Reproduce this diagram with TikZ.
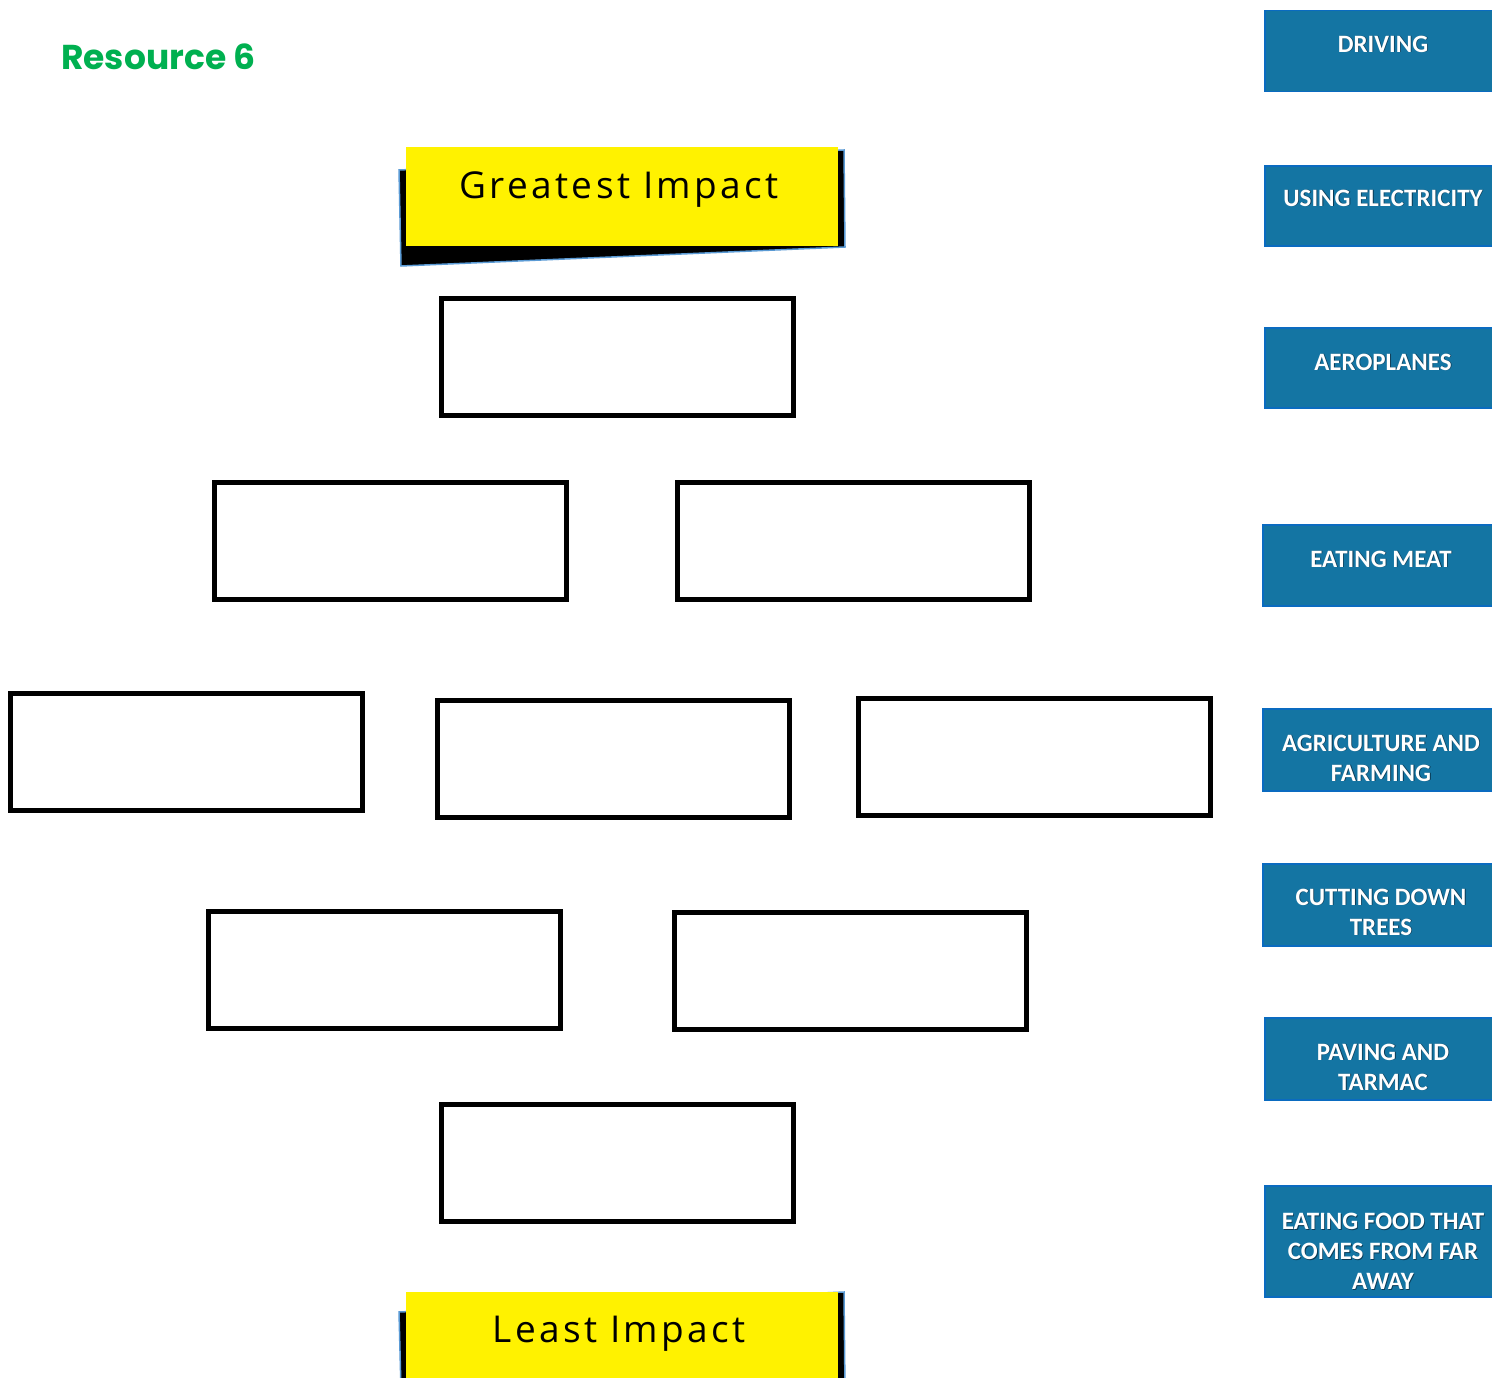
\documentclass[tikz,border=0pt]{standalone}
\usepackage{fontspec}
\setmainfont{Carlito}
\newfontfamily\titlefont{Poppins}
\newfontfamily\impactfont[LetterSpace=9]{Open Sans}
\definecolor{resgreen}{HTML}{00B050}
\definecolor{cardblue}{HTML}{1475A3}
\definecolor{cardedge}{HTML}{0A6BC0}
\definecolor{shadowedge}{HTML}{5B9BD5}
\definecolor{textshade}{HTML}{0B3A55}
\newcommand{\cardtext}[3]{%
  \node[cardlabel,text=textshade] at ([xshift=0.8pt,yshift=#2-0.8pt]#1.center) {#3};
  \node[cardlabel] (#1label) at ([yshift=#2]#1.center) {#3};}
\begin{document}
\begin{tikzpicture}[x=1pt,y=-1pt,
  rankbox/.style={draw=black,line width=5pt,fill=white,inner sep=0pt,minimum width=352pt,minimum height=117pt},
  card/.style={draw=cardedge,line width=1.5pt,fill=cardblue,inner sep=0pt,minimum width=236pt},
  cardlabel/.style={text=white,inner sep=0pt,align=center,font=\fontsize{25}{30}\selectfont\bfseries},
  impact/.style={fill=yellow,inner sep=0pt,minimum width=432pt}
]
\clip (0,0) rectangle (1492,1378);
\fill[white] (0,0) rectangle (1492,1378);

% title
\node[anchor=base west,text=resgreen,font=\titlefont\bfseries\fontsize{34.5}{38}\selectfont,inner sep=0pt] (title) at (61,70) {Resource 6};

% greatest impact
\filldraw[fill=black,draw=shadowedge,line width=1.5pt] (399,170) -- (844,150) -- (845,247) -- (401,266) -- cycle;
\node[impact,minimum height=99pt] (greatest) at (622,196.5) {};
\node[anchor=base,font=\impactfont\fontsize{37}{40}\selectfont,inner sep=0pt] (greatestlabel) at (619,199) {Greatest Impact};

% least impact
\filldraw[fill=black,draw=shadowedge,line width=1.5pt] (399,1312) -- (844,1292) -- (845,1390) -- (401,1390) -- cycle;
\node[impact,minimum height=100pt] (least) at (622,1342) {};
\node[anchor=base,font=\impactfont\fontsize{37}{40}\selectfont,inner sep=0pt] (leastlabel) at (619,1342) {Least Impact};

% ranking boxes
\node[rankbox] (r1) at (617,357) {};
\node[rankbox] (r2a) at (390.5,540.5) {};
\node[rankbox] (r2b) at (853,540.5) {};
\node[rankbox] (r3a) at (186.5,752) {};
\node[rankbox] (r3b) at (613,758.5) {};
\node[rankbox] (r3c) at (1034,756.5) {};
\node[rankbox] (r4a) at (384.5,969.5) {};
\node[rankbox] (r4b) at (850.5,971) {};
\node[rankbox] (r5) at (617,1163) {};

% cards
\node[card,minimum height=81pt] (c1) at (1383,51) {};
\node[card,minimum height=80pt] (c2) at (1383,206) {};
\node[card,minimum height=80pt] (c3) at (1383,368) {};
\node[card,minimum height=81pt] (c4) at (1381,565.5) {};
\node[card,minimum height=82pt] (c5) at (1381,750) {};
\node[card,minimum height=82pt] (c6) at (1381,905) {};
\node[card,minimum height=82pt] (c7) at (1383,1059) {};
\node[card,minimum height=111pt] (c8) at (1383,1241.5) {};

\cardtext{c1}{7pt}{DRIVING}
\cardtext{c2}{8pt}{USING ELECTRICITY}
\cardtext{c3}{6pt}{AEROPLANES}
\cardtext{c4}{6.5pt}{EATING MEAT}
\cardtext{c5}{-8pt}{AGRICULTURE AND\\FARMING}
\cardtext{c6}{-7pt}{CUTTING DOWN\\TREES}
\cardtext{c7}{-8pt}{PAVING AND\\TARMAC}
\cardtext{c8}{-9.5pt}{EATING FOOD THAT\\COMES FROM FAR\\AWAY}
\end{tikzpicture}
\end{document}
